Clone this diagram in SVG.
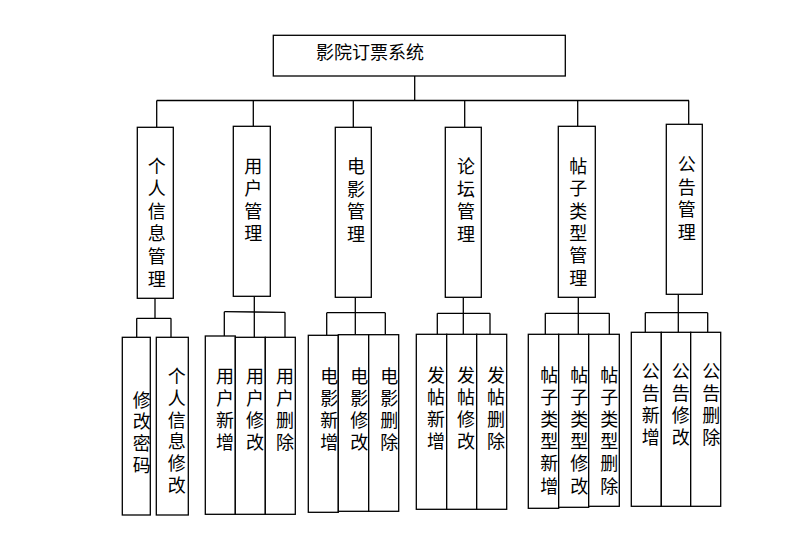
<svg xmlns="http://www.w3.org/2000/svg" width="788" height="555" viewBox="0 0 788 555">
<style>
rect{fill:#fff;stroke:#000;stroke-width:1.3}
line{stroke:#000;stroke-width:1.3}
text{font-family:"Liberation Sans","Noto Sans CJK SC",sans-serif;font-size:18px;fill:#000;text-anchor:middle}
</style>
<rect x="0" y="0" width="788" height="555" style="stroke:none"/>
<g id="connectors">
<line x1="414.7" y1="76" x2="414.7" y2="100.5"/>
<line x1="156.7" y1="100.5" x2="689" y2="100.5"/>
<line x1="156.7" y1="100.5" x2="156.7" y2="127.3"/>
<line x1="253.3" y1="100.5" x2="253.3" y2="126.3"/>
<line x1="353.3" y1="100.5" x2="353.3" y2="127.3"/>
<line x1="464.7" y1="100.5" x2="464.7" y2="127.3"/>
<line x1="577.7" y1="100.5" x2="577.7" y2="126.3"/>
<line x1="688.7" y1="100.5" x2="688.7" y2="124.3"/>
<line x1="155" y1="298.3" x2="155" y2="318.3"/>
<line x1="136.7" y1="318.3" x2="171" y2="318.3"/>
<line x1="136.7" y1="318.3" x2="136.7" y2="337.3"/>
<line x1="171" y1="318.3" x2="171" y2="337.3"/>
<line x1="254.3" y1="296.3" x2="254.3" y2="337.3"/>
<line x1="224.3" y1="311.7" x2="285" y2="312.3"/>
<line x1="224.3" y1="311.7" x2="224.3" y2="336"/>
<line x1="285" y1="312.3" x2="285" y2="337.3"/>
<line x1="355.3" y1="297.3" x2="355.3" y2="334.7"/>
<line x1="326.7" y1="312.7" x2="385.3" y2="312.7"/>
<line x1="326.7" y1="312.7" x2="326.7" y2="335.3"/>
<line x1="385.3" y1="312.7" x2="385.3" y2="334.7"/>
<line x1="463.3" y1="297.3" x2="463.3" y2="334.3"/>
<line x1="437.3" y1="313.3" x2="490" y2="313.3"/>
<line x1="437.3" y1="313.3" x2="437.3" y2="334.3"/>
<line x1="490" y1="313.3" x2="490" y2="334.3"/>
<line x1="578.3" y1="297.3" x2="578.3" y2="334.3"/>
<line x1="545.3" y1="313.3" x2="609.3" y2="313.3"/>
<line x1="545.3" y1="313.3" x2="545.3" y2="334.3"/>
<line x1="609.3" y1="313.3" x2="609.3" y2="334.3"/>
<line x1="678.3" y1="294.3" x2="678.3" y2="332.3"/>
<line x1="645.3" y1="312.7" x2="707.7" y2="312.7"/>
<line x1="645.3" y1="312.7" x2="645.3" y2="332.3"/>
<line x1="707.7" y1="312.7" x2="707.7" y2="332.3"/>
</g>
<g id="root"><rect x="273.3" y="35.3" width="292" height="40.7"/><text x="370" y="59">影院订票系统</text></g>
<g id="n1"><rect x="137.3" y="127.3" width="36" height="171"/><text><tspan x="156.7" y="172.5">个</tspan><tspan x="156.7" dy="22.6">人</tspan><tspan x="156.7" dy="22.6">信</tspan><tspan x="156.7" dy="22.6">息</tspan><tspan x="156.7" dy="22.6">管</tspan><tspan x="156.7" dy="22.6">理</tspan></text></g>
<g id="n2"><rect x="233.3" y="126.3" width="37" height="170"/><text><tspan x="253.3" y="172.5">用</tspan><tspan x="253.3" dy="22.6">户</tspan><tspan x="253.3" dy="22.6">管</tspan><tspan x="253.3" dy="22.6">理</tspan></text></g>
<g id="n3"><rect x="335.3" y="127.3" width="36" height="170"/><text><tspan x="356" y="173">电</tspan><tspan x="356" dy="22.6">影</tspan><tspan x="356" dy="22.6">管</tspan><tspan x="356" dy="22.6">理</tspan></text></g>
<g id="n4"><rect x="445.3" y="127.3" width="36" height="170"/><text><tspan x="466" y="173">论</tspan><tspan x="466" dy="22.6">坛</tspan><tspan x="466" dy="22.6">管</tspan><tspan x="466" dy="22.6">理</tspan></text></g>
<g id="n5"><rect x="558.3" y="126.3" width="37" height="171"/><text><tspan x="578.3" y="173">帖</tspan><tspan x="578.3" dy="22.3">子</tspan><tspan x="578.3" dy="22.3">类</tspan><tspan x="578.3" dy="22.3">型</tspan><tspan x="578.3" dy="22.3">管</tspan><tspan x="578.3" dy="22.3">理</tspan></text></g>
<g id="n6"><rect x="666.3" y="124.3" width="36" height="170"/><text><tspan x="686.7" y="171">公</tspan><tspan x="686.7" dy="22.6">告</tspan><tspan x="686.7" dy="22.6">管</tspan><tspan x="686.7" dy="22.6">理</tspan></text></g>
<g id="n1a"><rect x="122.3" y="337.3" width="28" height="177.7"/><text><tspan x="141.7" y="406.5">修</tspan><tspan x="141.7" dy="21.7">改</tspan><tspan x="141.7" dy="21.7">密</tspan><tspan x="141.7" dy="21.7">码</tspan></text></g>
<g id="n1b"><rect x="156.3" y="337.3" width="32" height="177.7"/><text><tspan x="176.7" y="383">个</tspan><tspan x="176.7" dy="21.8">人</tspan><tspan x="176.7" dy="21.8">信</tspan><tspan x="176.7" dy="21.8">息</tspan><tspan x="176.7" dy="21.8">修</tspan><tspan x="176.7" dy="21.8">改</tspan></text></g>
<g id="n2a"><rect x="205.3" y="336" width="30" height="178.3"/><text><tspan x="225" y="383">用</tspan><tspan x="225" dy="22">户</tspan><tspan x="225" dy="22">新</tspan><tspan x="225" dy="22">增</tspan></text></g>
<g id="n2b"><rect x="235.3" y="337.3" width="30" height="177"/><text><tspan x="255" y="383">用</tspan><tspan x="255" dy="22">户</tspan><tspan x="255" dy="22">修</tspan><tspan x="255" dy="22">改</tspan></text></g>
<g id="n2c"><rect x="265.3" y="337.3" width="30" height="177"/><text><tspan x="285" y="383">用</tspan><tspan x="285" dy="22">户</tspan><tspan x="285" dy="22">删</tspan><tspan x="285" dy="22">除</tspan></text></g>
<g id="n3a"><rect x="308.3" y="335.3" width="30" height="177"/><text><tspan x="329.3" y="383">电</tspan><tspan x="329.3" dy="22">影</tspan><tspan x="329.3" dy="22">新</tspan><tspan x="329.3" dy="22">增</tspan></text></g>
<g id="n3b"><rect x="338.3" y="334.7" width="30.4" height="176.6"/><text><tspan x="359.3" y="383">电</tspan><tspan x="359.3" dy="22">影</tspan><tspan x="359.3" dy="22">修</tspan><tspan x="359.3" dy="22">改</tspan></text></g>
<g id="n3c"><rect x="368.7" y="334.7" width="30" height="176.6"/><text><tspan x="389.3" y="383">电</tspan><tspan x="389.3" dy="22">影</tspan><tspan x="389.3" dy="22">删</tspan><tspan x="389.3" dy="22">除</tspan></text></g>
<g id="n4a"><rect x="416.3" y="334.3" width="30.4" height="175"/><text><tspan x="436" y="381.5">发</tspan><tspan x="436" dy="22">帖</tspan><tspan x="436" dy="22">新</tspan><tspan x="436" dy="22">增</tspan></text></g>
<g id="n4b"><rect x="446.7" y="334.3" width="30" height="175"/><text><tspan x="466" y="381.5">发</tspan><tspan x="466" dy="22">帖</tspan><tspan x="466" dy="22">修</tspan><tspan x="466" dy="22">改</tspan></text></g>
<g id="n4c"><rect x="476.7" y="334.3" width="30" height="175"/><text><tspan x="496" y="381.5">发</tspan><tspan x="496" dy="22">帖</tspan><tspan x="496" dy="22">删</tspan><tspan x="496" dy="22">除</tspan></text></g>
<g id="n5a"><rect x="528.3" y="334.3" width="30.4" height="174"/><text><tspan x="549.3" y="381.5">帖</tspan><tspan x="549.3" dy="22.2">子</tspan><tspan x="549.3" dy="22.2">类</tspan><tspan x="549.3" dy="22.2">型</tspan><tspan x="549.3" dy="22.2">新</tspan><tspan x="549.3" dy="22.2">增</tspan></text></g>
<g id="n5b"><rect x="558.7" y="334.3" width="30" height="173"/><text><tspan x="579.3" y="381.5">帖</tspan><tspan x="579.3" dy="22.2">子</tspan><tspan x="579.3" dy="22.2">类</tspan><tspan x="579.3" dy="22.2">型</tspan><tspan x="579.3" dy="22.2">修</tspan><tspan x="579.3" dy="22.2">改</tspan></text></g>
<g id="n5c"><rect x="588.7" y="334.3" width="30.6" height="172"/><text><tspan x="609.3" y="381.5">帖</tspan><tspan x="609.3" dy="22.2">子</tspan><tspan x="609.3" dy="22.2">类</tspan><tspan x="609.3" dy="22.2">型</tspan><tspan x="609.3" dy="22.2">删</tspan><tspan x="609.3" dy="22.2">除</tspan></text></g>
<g id="n6a"><rect x="631.3" y="332.3" width="30" height="174"/><text><tspan x="650.7" y="378">公</tspan><tspan x="650.7" dy="22">告</tspan><tspan x="650.7" dy="22">新</tspan><tspan x="650.7" dy="22">增</tspan></text></g>
<g id="n6b"><rect x="661.3" y="332.3" width="29.4" height="174"/><text><tspan x="680.7" y="378">公</tspan><tspan x="680.7" dy="22">告</tspan><tspan x="680.7" dy="22">修</tspan><tspan x="680.7" dy="22">改</tspan></text></g>
<g id="n6c"><rect x="690.7" y="332.3" width="30" height="174"/><text><tspan x="711.3" y="378">公</tspan><tspan x="711.3" dy="22">告</tspan><tspan x="711.3" dy="22">删</tspan><tspan x="711.3" dy="22">除</tspan></text></g>
</svg>
